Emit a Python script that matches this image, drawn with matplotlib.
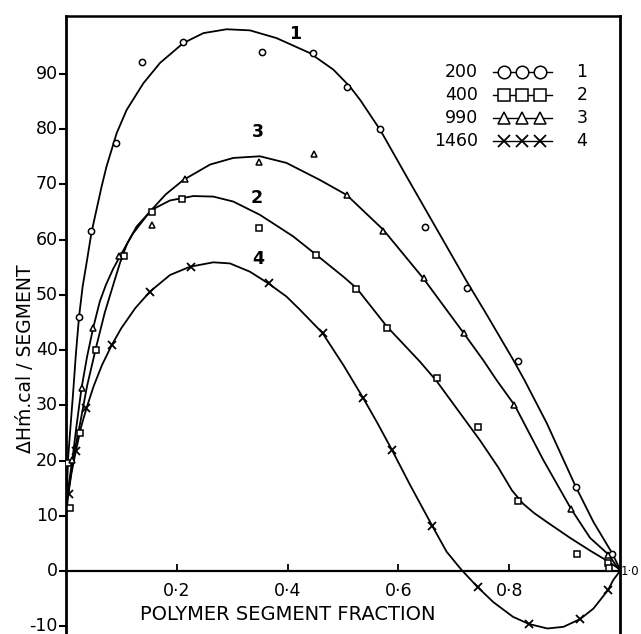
import matplotlib
matplotlib.use('Agg')
import matplotlib.pyplot as plt

# smooth curves
line1_x = [0, 0.001, 0.004, 0.008, 0.013, 0.018, 0.0235, 0.03, 0.037, 0.046, 0.055, 0.064, 0.073,
           0.0915, 0.1095, 0.1395, 0.1697, 0.2117, 0.248, 0.29, 0.332, 0.38, 0.44, 0.4825, 0.5126,
           0.531, 0.567, 0.615, 0.663, 0.723, 0.759, 0.8075, 0.8274, 0.8677, 0.92, 0.952, 0.986, 1.0]
line1_y = [12, 13.5, 20.7, 26, 32.5, 39.5, 46, 51.5, 55.7, 61.3, 65.4, 69.5, 73.2,
           79.3, 83.5, 88.3, 92, 95.6, 97.4, 98.1, 97.9, 96.5, 93.8, 90.8, 87.7,
           85.3, 79.9, 71.4, 63.0, 52.5, 46.5, 38.2, 34.6, 26.8, 15.3, 8.9, 3.2, 0.3]
line2_x = [0, 0.006, 0.014, 0.025, 0.038, 0.055, 0.07, 0.087, 0.0975, 0.11, 0.1276, 0.1547, 0.1877,
           0.2298, 0.266, 0.302, 0.35, 0.41, 0.4525, 0.5006, 0.5247, 0.579, 0.639, 0.669, 0.747,
           0.78, 0.805, 0.825, 0.845, 0.8677, 0.91, 0.946, 0.976, 1.0]
line2_y = [10, 15.5, 21, 26.5, 33.5, 40.8, 46.8, 52.4, 55.8, 59.2, 62.4, 65.4, 67.1,
           67.9, 67.8, 66.9, 64.5, 60.6, 57.2, 53.3, 51.2, 44.3, 37.9, 34.4, 23.7,
           18.8, 14.6, 12.2, 10.5, 8.9, 6.0, 3.7, 1.9, 0.3]
line3_x = [0, 0.004, 0.0114, 0.019, 0.028, 0.038, 0.049, 0.061, 0.072, 0.085, 0.0975, 0.12, 0.1516,
           0.18, 0.2117, 0.26, 0.302, 0.35, 0.398, 0.4585, 0.5066, 0.5727, 0.645, 0.717, 0.753,
           0.777, 0.81, 0.8616, 0.912, 0.946, 0.979, 1.0]
line3_y = [12, 15, 20.1, 26.3, 33.1, 38.8, 44, 48.8, 51.8, 54.7, 57, 61, 65.1,
           68.2, 70.8, 73.6, 74.8, 75.1, 73.9, 70.8, 68.1, 61.8, 53, 43.2, 38.2,
           34.6, 30, 20.1, 11.2, 6.0, 3.0, 0]
line4_x = [0, 0.005, 0.01, 0.018, 0.027, 0.037, 0.05, 0.065, 0.083, 0.1, 0.125, 0.1516, 0.1877,
           0.2238, 0.266, 0.296, 0.332, 0.365, 0.398, 0.4224, 0.463, 0.5006, 0.536, 0.561, 0.588,
           0.621, 0.661, 0.687, 0.714, 0.743, 0.771, 0.807, 0.836, 0.869, 0.898, 0.928, 0.952,
           0.978, 0.988, 1.0]
line4_y = [12, 14.5, 17.8, 21.8, 26, 29.5, 33.5, 37.3, 41, 44, 47.6, 50.6, 53.6,
           55.1, 55.9, 55.7, 54.2, 52.1, 49.7, 47.3, 43.1, 37.3, 31.4, 27, 22,
           15.6, 8.2, 3.5, 0.2, -2.9, -5.6, -8.3, -9.6, -10.4, -10.1, -8.7, -6.8,
           -3.5, -1.6, 0]

# measured points
circ_x = [0.0235, 0.046, 0.091, 0.138, 0.212, 0.354, 0.445, 0.508, 0.566, 0.648, 0.723, 0.815, 0.92, 0.986]
circ_y = [46, 61.6, 77.5, 92.2, 95.8, 94, 93.8, 87.6, 80.1, 62.3, 51.3, 38, 15.3, 3]
sq_x = [0.004, 0.007, 0.025, 0.055, 0.105, 0.155, 0.209, 0.348, 0.452, 0.523, 0.579, 0.669, 0.744, 0.815,
        0.923, 0.978, 0.98]
sq_y = [19.5, 11.4, 25, 40, 57, 65.1, 67.3, 62.2, 57.3, 51.1, 44, 34.9, 26, 12.7, 3.1, 1.5, 0.5]
tri_x = [0.0114, 0.028, 0.049, 0.096, 0.155, 0.214, 0.348, 0.447, 0.508, 0.573, 0.647, 0.719, 0.809, 0.912, 0.979]
tri_y = [20.1, 33.1, 44, 57, 62.7, 70.9, 74, 75.5, 68.1, 61.6, 53, 43.1, 30.1, 11.2, 2.9]
crs_x = [0.005, 0.018, 0.037, 0.083, 0.1516, 0.225, 0.366, 0.463, 0.536, 0.588, 0.661, 0.743, 0.836, 0.928, 0.978]
crs_y = [14, 21.8, 29.5, 41, 50.6, 55.1, 52.2, 43.1, 31.4, 22, 8.2, -2.9, -9.6, -8.7, -3.5]

mol_wts = ['200', '400', '990', '1460']
curve_ids = ['1', '2', '3', '4']
markers = ['o', 's', '^', 'x']
xticks = [0.2, 0.4, 0.6, 0.8]
xtick_labels = ['0·2', '0·4', '0·6', '0·8']
yticks = [-10, 0, 10, 20, 30, 40, 50, 60, 70, 80, 90]
ytick_labels = ['-10', '0', '10', '20', '30', '40', '50', '60', '70', '80', '90']

FS = 12.5
fig = plt.figure(figsize=(6.41, 6.34), dpi=100)
ax = fig.add_axes([66/641, 0.0, 554/641, 618/634])
ax.set_xlim(0, 1.0)
ax.set_ylim(-11.4, 100.5)

lines = [(line1_x, line1_y), (line2_x, line2_y), (line3_x, line3_y), (line4_x, line4_y)]
pts = [(circ_x, circ_y), (sq_x, sq_y), (tri_x, tri_y), (crs_x, crs_y)]
msize = {'o': 4.5, 's': 4, '^': 4.5, 'x': 5.5}
for (lx, ly), (px, py), mk in zip(lines, pts, markers):
    ax.plot(lx, ly, color='black', lw=1.3, zorder=2, solid_joinstyle='round')
    if mk == 'x':
        ax.plot(px, py, ls='none', marker='x', ms=msize[mk], mew=1.3, color='black', zorder=3)
    else:
        ax.plot(px, py, ls='none', marker=mk, ms=msize[mk], mfc='white', mec='black', mew=1.1, zorder=3)

# curve numbers
for cid, (tx, ty) in zip(curve_ids, [(0.413, 97.3), (0.345, 67.6), (0.347, 79.5), (0.347, 56.5)]):
    ax.text(tx, ty, cid, fontsize=FS, fontweight='bold', ha='center', va='center')

# legend drawn by hand
legsize = {'o': 9, 's': 8, '^': 8, 'x': 8}
for i, (mw, cid, mk) in enumerate(zip(mol_wts, curve_ids, markers)):
    y = 90.4 - i * 4.2
    ax.text(0.744, y, mw, fontsize=FS, ha='right', va='center')
    ax.plot([0.77, 0.877], [y, y], color='black', lw=1.0)
    if mk == 'x':
        ax.plot([0.79, 0.823, 0.856], [y] * 3, ls='none', marker='x', ms=legsize[mk], mew=1.3, color='black')
    else:
        ax.plot([0.79, 0.823, 0.856], [y] * 3, ls='none', marker=mk, ms=legsize[mk], mfc='white',
                mec='black', mew=1.1)
    ax.text(0.931, y, cid, fontsize=FS, ha='center', va='center')

# axes styling
ax.spines['bottom'].set_position(('data', 0))
for s in ['left', 'right']:
    ax.spines[s].set_linewidth(2.0)
ax.spines['top'].set_linewidth(1.8)
ax.spines['bottom'].set_linewidth(1.6)
ax.set_xticks(xticks)
ax.set_xticklabels(xtick_labels, fontsize=FS)
ax.tick_params(axis='x', direction='in', length=5, width=1.3, pad=8)
ax.set_yticks(yticks)
ax.set_yticklabels(ytick_labels, fontsize=FS, va='center')
ax.tick_params(axis='y', direction='out', length=5, width=1.5, pad=1)
ax.text(1.0015, 0, '1·0', fontsize=8.5, ha='left', va='center', clip_on=False)

ax.text(0.40, -7.8, 'POLYMER SEGMENT FRACTION', fontsize=14, ha='center', va='center')
ax.text(-0.074, 38.4, 'ΔHḿ.cal / SEGMENT', fontsize=13.5, rotation=90, ha='center', va='center',
        clip_on=False)

fig.savefig('out.png', dpi=100)
